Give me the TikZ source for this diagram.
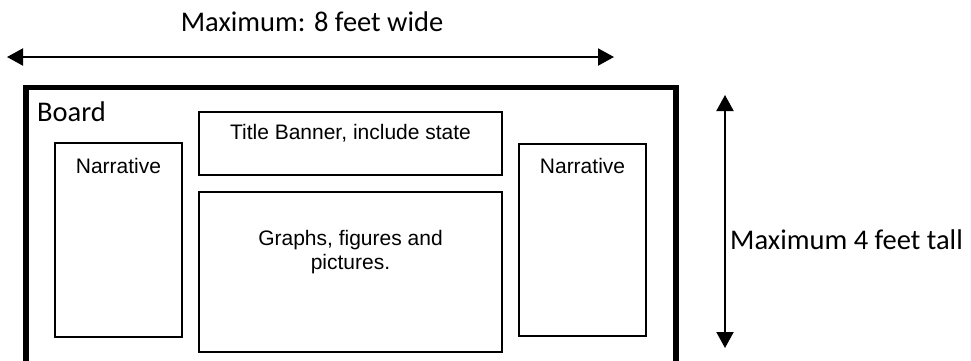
\documentclass[tikz,border=0pt]{standalone}
\usepackage{fontspec}
\setmainfont{Liberation Sans}
\newfontfamily\calibri{Carlito}
\usetikzlibrary{arrows.meta, positioning}
\tikzset{
    boardframe/.style={draw, line width=5.5pt, minimum width=650, minimum height=279, inner sep=0pt},
    panel/.style={draw, line width=1.4pt, inner sep=0pt},
    paneltext/.style={font=\fontsize{21}{24}\selectfont, align=center, inner sep=0pt},
    bigtext/.style={font=\calibri\fontsize{28.5}{34}\selectfont, inner sep=0pt},
    dimarrow/.style={{Triangle[width=17pt, length=16pt]}-{Triangle[width=17pt, length=16pt]}, line width=2pt},
}

\begin{document}
\begin{tikzpicture}[x=1pt, y=-1pt]
    \useasboundingbox (0,0) rectangle (971,360);

    % the board and its panels
    \node[boardframe] (board) at (350.75,227) {};
    \node[bigtext, anchor=west] (boardlbl) at (37,112) {Board};

    \node[panel, minimum width=127, minimum height=194] (narrL) at (118.5,240) {};
    \node[panel, minimum width=303, minimum height=63] (title) at (350.5,143.5) {};
    \node[panel, minimum width=303, minimum height=160] (graphs) at (350.5,272) {};
    \node[panel, minimum width=127, minimum height=192] (narrR) at (582.5,240) {};

    \node[paneltext] (narrLtxt) at ([yshift=-24]narrL.north) {Narrative};
    \node[paneltext] (titletxt) at ([yshift=-22]title.north) {Title Banner, include state};
    \node[paneltext] (graphstxt) at ([yshift=-61]graphs.north) {Graphs, figures and\\pictures.};
    \node[paneltext] (narrRtxt) at ([yshift=-23]narrR.north) {Narrative};

    % size limits
    \coordinate (wideL) at (7,57);
    \coordinate (wideR) at (614,57);
    \draw[dimarrow] (wideL) -- (wideR);
    \node[bigtext] (widelbl) at (312,22) {Maximum: 8 feet wide};

    \coordinate (tallT) at (725,95);
    \coordinate (tallB) at (725,348);
    \draw[dimarrow] (tallT) -- (tallB);
    \node[bigtext, anchor=west] (talllbl) at (730,240) {Maximum 4 feet tall};
\end{tikzpicture}
\end{document}
